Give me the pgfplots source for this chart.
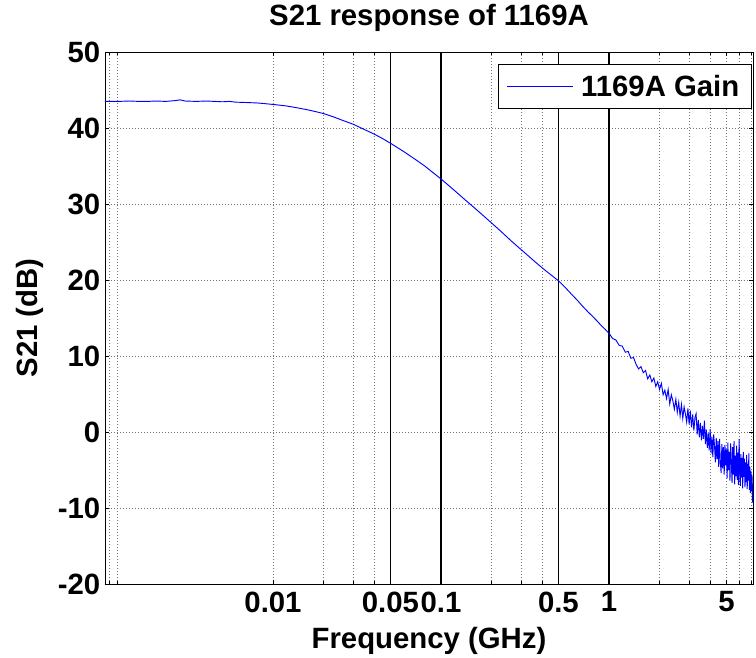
\documentclass[border=0pt]{standalone}
\usepackage{fontspec}
\setmainfont{Liberation Sans}
\usepackage{pgfplots}
\pgfplotsset{compat=1.18}

\begin{document}
\begin{tikzpicture}[font=\fontsize{22}{26}\selectfont\bfseries]
\begin{axis}[
    xmode=log,
    scale only axis,
    width=486pt, height=399pt,
    xmin=0.001, xmax=7.2,
    ymin=-20, ymax=50,
    xtick={0.01,0.05,0.1,0.5,1,5},
    xticklabels={0.01,0.05,0.1,0.5,1,5},
    minor xtick={0.00106,0.00119,0.02,0.03,0.04,0.2,0.3,0.4,2,3,4,6,7},
    ytick={-20,-10,0,10,20,30,40,50},
    yticklabels={-20,-10,0,10,20,30,40,50},
    xticklabel style={yshift=-2.2pt},
    tick align=inside,
    major tick length=3pt, minor tick length=2pt,
    tick style={black, line width=0.5pt},
    axis line style={line width=0.6pt},
    grid=both,
    major grid style={black!55, line width=0.5pt, dash pattern=on 0.75pt off 1.5pt},
    minor grid style={black!55, line width=0.5pt, dash pattern=on 0.75pt off 1.5pt},
    extra x ticks={0.05,0.1,0.5,1},
    extra x tick labels={{},{},{},{}},
    extra x tick style={major grid style={black, solid, line width=0.9pt}, major tick length=0pt},
    title={S21 response of 1169A},
    title style={at={(axis description cs:0.5,1.0357)}, anchor=base},
    xlabel={Frequency (GHz)},
    xlabel style={at={(axis description cs:0.5,-0.1203)}, anchor=base},
    ylabel={S21 (dB)},
    ylabel style={at={(axis description cs:-0.1157,0.5)}, anchor=center, rotate=0},
    legend style={at={(axis description cs:0.9985,0.9774)}, anchor=north east,
        draw=black, line width=0.6pt, fill=white,
        inner xsep=6pt, inner ysep=4.5pt,
        nodes={inner xsep=3.25pt, inner ysep=3.25pt},
        /tikz/every odd column/.append style={column sep=2.5pt}},
    legend cell align=left,
    legend image code/.code={\draw[#1, line width=0.6pt] (0pt,0pt) -- (49.5pt,0pt);},
]
\addplot[color=blue, line width=0.7pt] coordinates {
(0.001,43.5) (0.0012,43.5) (0.0014,43.55) (0.0016,43.5) (0.0018,43.5)
(0.002,43.55) (0.0023,43.5) (0.0026,43.6) (0.0028,43.7) (0.003,43.55)
(0.0035,43.5) (0.004,43.55) (0.0045,43.5) (0.005,43.45) (0.0055,43.5)
(0.006,43.4) (0.007,43.35) (0.008,43.3) (0.009,43.2) (0.01,43.1)
(0.011,43.0) (0.012,42.9) (0.014,42.65) (0.016,42.4) (0.018,42.15)
(0.02,41.9) (0.023,41.45) (0.026,41.0) (0.03,40.5) (0.035,39.8)
(0.04,39.2) (0.045,38.6) (0.05,38.0) (0.06,36.9) (0.07,35.9)
(0.08,35.0) (0.09,34.1) (0.1,33.3) (0.12,31.8) (0.14,30.5)
(0.16,29.4) (0.18,28.4) (0.2,27.5) (0.23,26.3) (0.26,25.2)
(0.3,24.0) (0.35,22.7) (0.4,21.6) (0.45,20.7) (0.5,19.9)
(0.55,19.0) (0.6,18.1) (0.65,17.3) (0.7,16.5) (0.75,15.8)
(0.8,15.2) (0.85,14.6) (0.9,14.0) (0.95,13.5) (1.0,13.0)
(1.05,12.3) (1.1,12.1) (1.15,11.4) (1.2,11.3) (1.25,10.5)
(1.3,10.6) (1.35,9.7) (1.4,9.8) (1.45,8.9) (1.5,8.3)
(1.55,8.6) (1.6,7.8) (1.65,8.1) (1.7,7.0) (1.75,7.5)
(1.8,6.6) (1.85,7.1) (1.9,6.0) (1.95,6.6) (2.0,5.6)
(2.05,6.4) (2.1,4.9) (2.15,5.5) (2.2,4.4) (2.25,5.6)
(2.3,3.7) (2.35,4.9) (2.4,4.1) (2.45,3.0) (2.5,4.3)
(2.55,2.6) (2.6,3.9) (2.65,2.1) (2.7,3.6) (2.75,1.8)
(2.8,3.3) (2.85,2.4) (2.9,1.3) (2.95,3.1) (3.0,1.0)
(3.05,2.8) (3.1,0.6) (3.15,2.3) (3.2,0.2) (3.25,1.9)
(3.3,2.4) (3.35,-0.3) (3.4,1.6) (3.45,-0.7) (3.5,1.2)
(3.55,-1.1) (3.6,0.8) (3.65,-0.9) (3.7,1.5) (3.75,-1.6)
(3.8,0.3) (3.85,-2.1) (3.9,-0.2) (3.95,-2.4) (4.0,0.4)
(4.05,-2.8) (4.1,-0.6) (4.15,-3.3) (4.2,-0.3) (4.25,-1.9)
(4.3,-4.0) (4.35,-0.8) (4.4,-3.6) (4.45,-1.2) (4.5,-4.6)
(4.55,-0.9) (4.6,-3.9) (4.65,-5.4) (4.7,-1.6) (4.75,-4.8)
(4.8,-2.0) (4.85,-5.6) (4.9,-1.7) (4.95,-4.4) (5.0,-2.3)
(5.05,-6.1) (5.1,-1.4) (5.15,-5.0) (5.2,-2.6) (5.25,-6.4)
(5.3,-1.5) (5.35,-3.8) (5.4,-6.7) (5.45,-2.0) (5.5,-5.6)
(5.55,-1.2) (5.6,-6.9) (5.65,-3.1) (5.7,-5.8) (5.75,-1.8)
(5.8,-6.3) (5.85,-2.7) (5.9,-7.0) (5.95,-0.9) (6.0,-4.5)
(6.05,-7.1) (6.1,-2.9) (6.15,-6.0) (6.2,-3.4) (6.25,-7.4)
(6.3,-2.6) (6.35,-5.9) (6.4,-3.5) (6.45,-7.3) (6.5,-4.0)
(6.55,-6.6) (6.6,-3.0) (6.65,-7.5) (6.7,-4.2) (6.75,-6.4)
(6.8,-2.8) (6.85,-7.6) (6.9,-4.6) (6.95,-8.0) (7.0,-5.1)
(7.05,-7.8) (7.1,-5.6) (7.15,-9.3) (7.2,-6.8)
};
\addlegendentry{1169A Gain}
\end{axis}
\pgfresetboundingbox
\useasboundingbox (-78.75pt,-54.75pt) rectangle (488.25pt,438pt);
\end{tikzpicture}
\end{document}
